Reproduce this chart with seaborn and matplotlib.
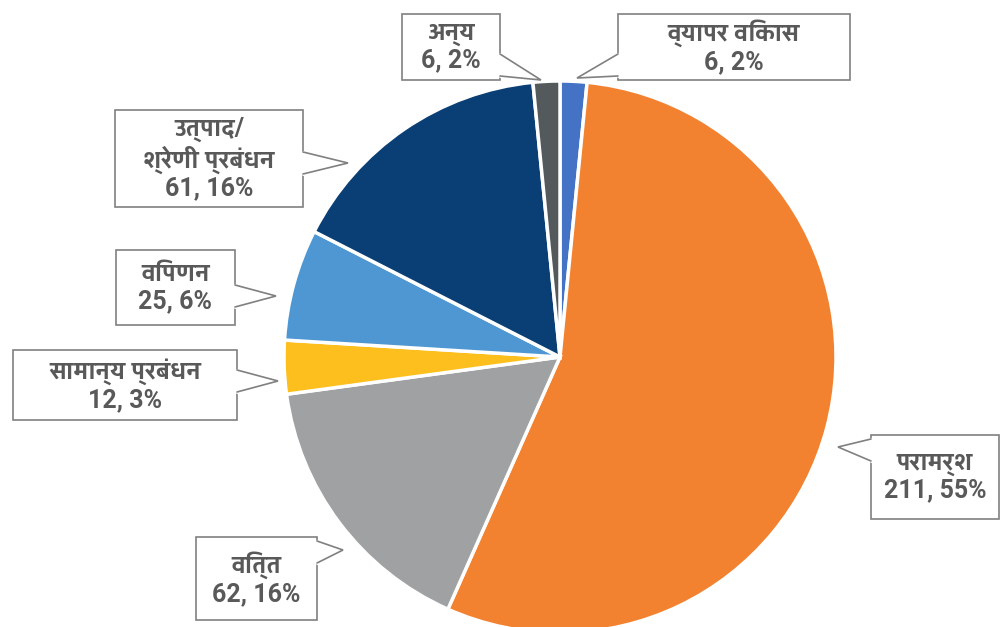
import numpy as np
import matplotlib
matplotlib.use('Agg')
import matplotlib.pyplot as plt
from matplotlib import font_manager
from matplotlib.patches import Rectangle
import seaborn as sns
from fontTools.ttLib import TTFont

# Data (clockwise from the top)
categories = ['व्यापर विकास', 'परामर्श', 'वित्त', 'सामान्य प्रबंधन',
              'विपणन', 'उत्पाद/\nश्रेणी प्रबंधन', 'अन्य']
counts = [6, 211, 62, 12, 25, 61, 6]
percents = [2, 55, 16, 3, 6, 16, 2]
colors = ['#4472C4', '#F28130', '#A0A1A3', '#FDBF1E', '#4E97D3', '#0A3F75', '#545A5C']

# label layout: callout boxes (x0, y0, x1, y1) and pointer tips, pixels from top-left
boxes = [(618, 14, 850, 80), (871, 435, 999, 519), (196, 537, 317, 620),
         (13, 350, 237, 420), (116, 250, 235, 325), (115, 110, 303, 207),
         (402, 14, 500, 80)]
tips = [(577, 78), (838, 447), (343, 550), (278, 381),
        (276, 296), (348, 163), (541, 80)]


# find an installed font that has Devanagari glyphs, bold ones first
def find_devanagari_font():
    found = []
    for f in font_manager.fontManager.ttflist:
        try:
            cmap = TTFont(f.fname, fontNumber=0, lazy=True).getBestCmap()
        except Exception:
            continue
        if cmap and 0x092A in cmap and 0x0915 in cmap:
            w = f.weight if isinstance(f.weight, int) else 400
            found.append((w >= 600, f.name))
    if not found:
        return None
    found.sort(reverse=True)
    return found[0][1]


sns.set_theme(style='white')
dev_font = find_devanagari_font()
families = ['Roboto']
if dev_font:
    families.append(dev_font)
families.append('DejaVu Sans')
plt.rcParams['font.family'] = families

W, H = 1000, 627
fig = plt.figure(figsize=(10, 6.27), dpi=100)
ax = fig.add_axes([0, 0, 1, 1])

cx, cy, r = 560, H - 357, 276
wedges, _ = ax.pie(counts, colors=colors, startangle=90, counterclock=False,
                   center=(cx, cy), radius=r, frame=True,
                   wedgeprops=dict(edgecolor='white', linewidth=2.5))
ax.set_xlim(0, W)
ax.set_ylim(0, H)
ax.set_aspect('equal')
ax.axis('off')

edge = '#808080'
half = 11  # half width of the callout pointer base

for cat, n, p, (x0, y0, x1, y1), (tx, ty) in zip(categories, counts, percents, boxes, tips):
    # flip to data coords (y up)
    y0, y1 = H - y0, H - y1
    ty = H - ty
    ax.add_patch(Rectangle((x0, y1), x1 - x0, y0 - y1, fc='white', ec=edge, lw=1.2, zorder=3))

    # pointer base on the box side that faces the tip
    if tx < x0 or tx > x1:
        sx = x0 if tx < x0 else x1
        c = min(max(ty, y1 + half + 4), y0 - half - 4)
        b1, b2 = (sx, c + half), (sx, c - half)
    else:
        sy = y1 if ty < y1 else y0
        c = min(max(tx, x0 + half + 4), x1 - half - 4)
        b1, b2 = (c - half, sy), (c + half, sy)
    ax.fill([b1[0], tx, b2[0]], [b1[1], ty, b2[1]], color='white', zorder=4)
    ax.plot([b1[0], b2[0]], [b1[1], b2[1]], color='white', lw=2.2, zorder=4)
    ax.plot([b1[0], tx, b2[0]], [b1[1], ty, b2[1]], color=edge, lw=1.2, zorder=5,
            solid_joinstyle='miter')

    ax.text((x0 + x1) / 2, (y0 + y1) / 2, f'{cat}\n{n}, {p}%', ha='center', va='center',
            fontsize=18, fontweight='bold', color='#595959', linespacing=1.15, zorder=6)

fig.savefig('out.png', dpi=100)
